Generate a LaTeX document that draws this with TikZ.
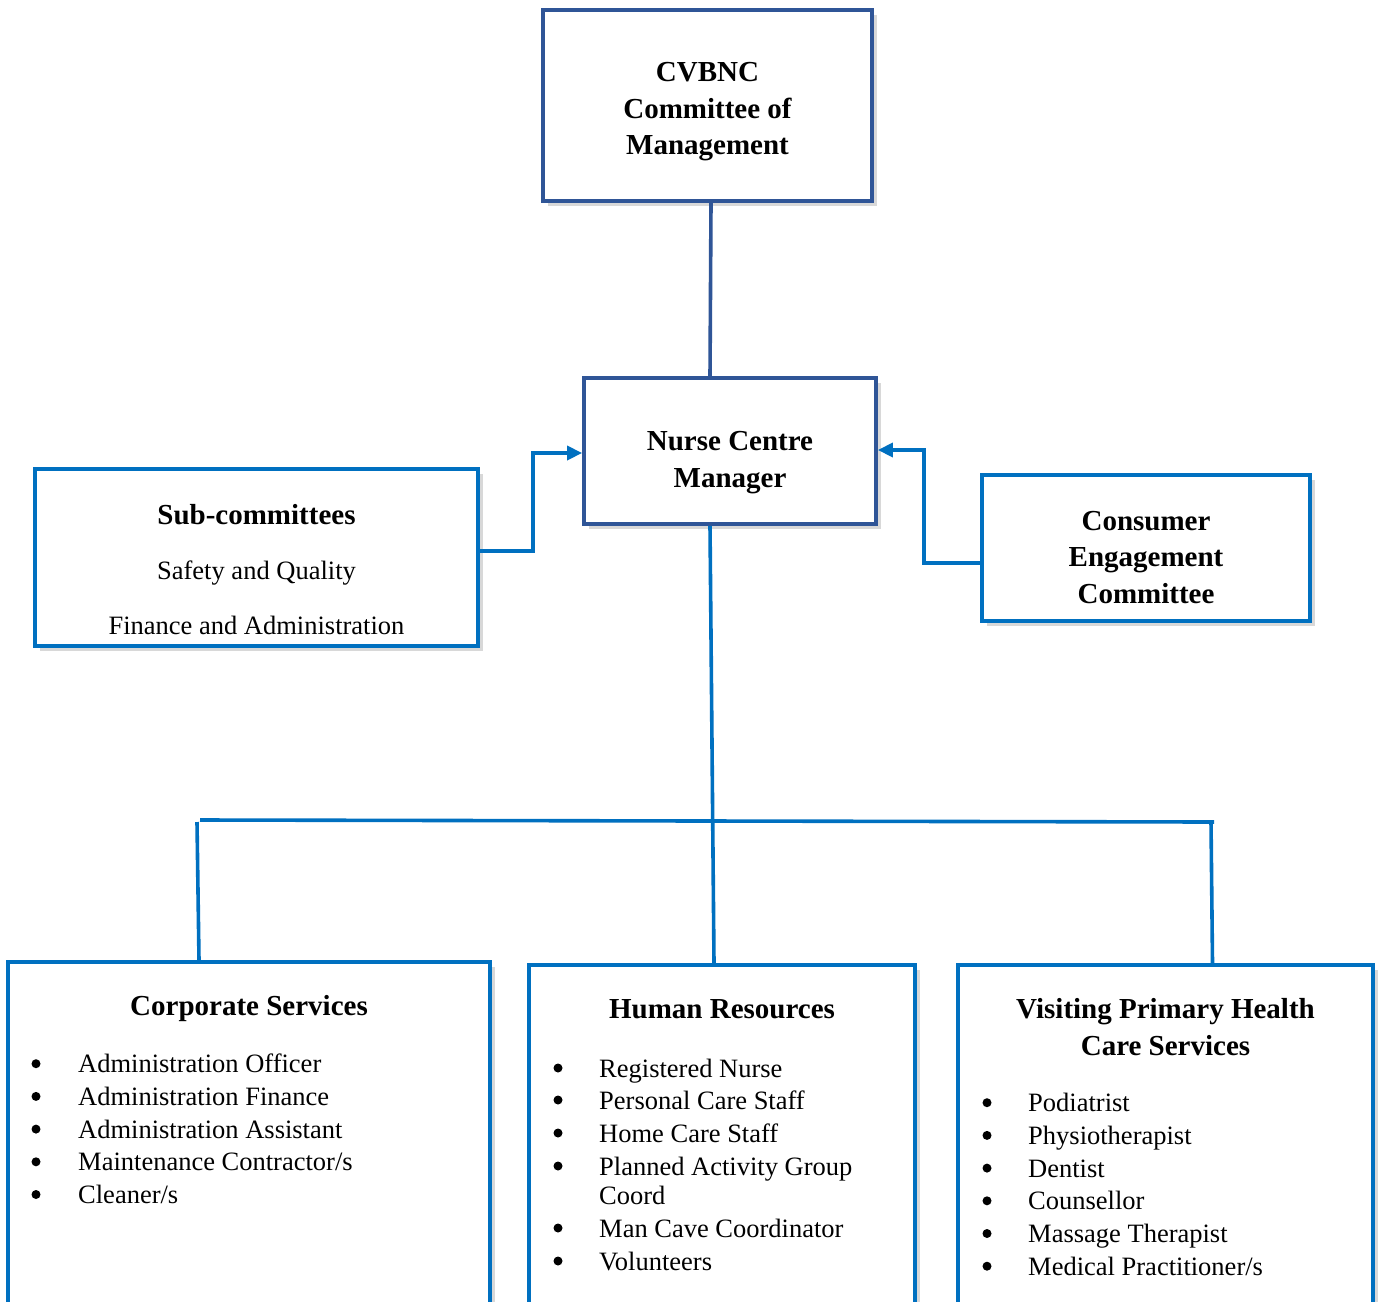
\documentclass[tikz,border=0pt]{standalone}
\usepackage{fontspec}
\setmainfont{Liberation Serif}
\usetikzlibrary{arrows.meta,shadows}
\definecolor{darkblue}{RGB}{47,85,151}
\definecolor{lightblue}{RGB}{0,112,192}
\tikzset{
  boxbase/.style={rectangle, fill=white, inner sep=0pt,
    drop shadow={shadow xshift=5pt, shadow yshift=-5pt, opacity=0.3, fill=gray}},
  darkbox/.style={boxbase, draw=darkblue, line width=3.8pt},
  lightbox/.style={boxbase, draw=lightblue, line width=3.6pt},
  conn/.style={draw=lightblue, line width=3.6pt},
  darkconn/.style={draw=darkblue, line width=3.6pt},
  arr/.style={conn, -{Triangle[length=15pt,width=14pt]}},
  ttl/.style={font=\fontsize{29}{36}\selectfont\bfseries, align=center, inner sep=0pt},
  itm/.style={font=\fontsize{26.5}{32}\selectfont, anchor=base west, inner sep=0pt},
  blt/.style={circle, fill=black, inner sep=0pt, minimum size=9pt},
  plain/.style={font=\fontsize{26.5}{32}\selectfont, inner sep=0pt, anchor=base}
}
\begin{document}
\begin{tikzpicture}[x=1pt,y=-1pt]
\useasboundingbox (0,0) rectangle (1381,1301);
\clip (0,0) rectangle (1381,1301);
\fill[white] (0,0) rectangle (1381,1301);

% boxes
\node[darkbox, minimum width=329pt, minimum height=191pt] (top) at (707.5,105.5) {};
\node[darkbox, minimum width=292pt, minimum height=146pt] (ncm) at (730,451) {};
\node[lightbox, minimum width=443pt, minimum height=177pt] (sub) at (256.5,557.5) {};
\node[lightbox, minimum width=328pt, minimum height=146pt] (cec) at (1146,548) {};
\node[lightbox, minimum width=482pt, minimum height=400pt, anchor=north] (cs) at (249,960) {};
\node[lightbox, minimum width=386pt, minimum height=400pt, anchor=north] (hr) at (722,963) {};
\node[lightbox, minimum width=415pt, minimum height=400pt, anchor=north] (vp) at (1165.5,963) {};

% connectors
\draw[darkconn] ([xshift=3.5pt]top.south) -- ([xshift=-20pt]ncm.north);
\draw[arr] ([yshift=6.5pt]sub.east) -- ++(53,0) |- ([yshift=-2pt]ncm.west);
\draw[arr] ([yshift=-15pt]cec.west) -- ++(-56,0) |- ([yshift=1pt]ncm.east);
\draw[conn] ([xshift=-20pt]ncm.south) -- ([xshift=-8pt]hr.north);
\coordinate (busL) at (200,820);
\coordinate (busR) at (1214,822);
\draw[conn] (busL) -- (busR);
\draw[conn] (197,822) -- ([xshift=-50pt]cs.north);
\draw[conn] (1211,822) -- ([xshift=47pt]vp.north);

% texts
\node[ttl] (topt) at (707.5,112) {CVBNC\\[0.5pt]Committee of\\[0.5pt]Management};
\node[ttl] (ncmt) at (730,462.5) {Nurse Centre\\[0.5pt]Manager};
\node[ttl, anchor=base] (subt) at (256.5,524) {Sub-committees};
\node[plain] (sub1) at (256.5,579) {Safety and Quality};
\node[plain] (sub2) at (256.5,634) {Finance and Administration};
\node[ttl] (cect) at (1146,557.5) {Consumer\\[0.5pt]Engagement\\[0.5pt]Committee};

\node[ttl, anchor=base] (cst) at (249,1015) {Corporate Services};
\foreach \t [count=\i] in {Administration Officer, Administration Finance, Administration Assistant, Maintenance Contractor/s, Cleaner/s}{
  \node[blt] (csb\i) at (36,{1031+\i*32.7}) {};
  \node[itm] (csi\i) at (78,{1040+\i*32.7}) {\t};
}

\node[ttl, anchor=base] (hrt) at (722,1018) {Human Resources};
\node[blt] (hrb1) at (558,1068) {};
\node[itm] (hri1) at (599,1077) {Registered Nurse};
\node[blt] (hrb2) at (558,1100) {};
\node[itm] (hri2) at (599,1109) {Personal Care Staff};
\node[blt] (hrb3) at (558,1133) {};
\node[itm] (hri3) at (599,1142) {Home Care Staff};
\node[blt] (hrb4) at (558,1166) {};
\node[itm] (hri4) at (599,1175) {Planned Activity Group};
\node[itm] (hri4b) at (599,1204) {Coord};
\node[blt] (hrb5) at (558,1228) {};
\node[itm] (hri5) at (599,1237) {Man Cave Coordinator};
\node[blt] (hrb6) at (558,1261) {};
\node[itm] (hri6) at (599,1270) {Volunteers};

\node[ttl] (vpt) at (1165.5,1027) {Visiting Primary Health\\[0.5pt]Care Services};
\foreach \t [count=\i] in {Podiatrist, Physiotherapist, Dentist, Counsellor, Massage Therapist, Medical Practitioner/s}{
  \node[blt] (vpb\i) at (987,{1070+\i*32.7}) {};
  \node[itm] (vpi\i) at (1028,{1079+\i*32.7}) {\t};
}
\end{tikzpicture}
\end{document}
